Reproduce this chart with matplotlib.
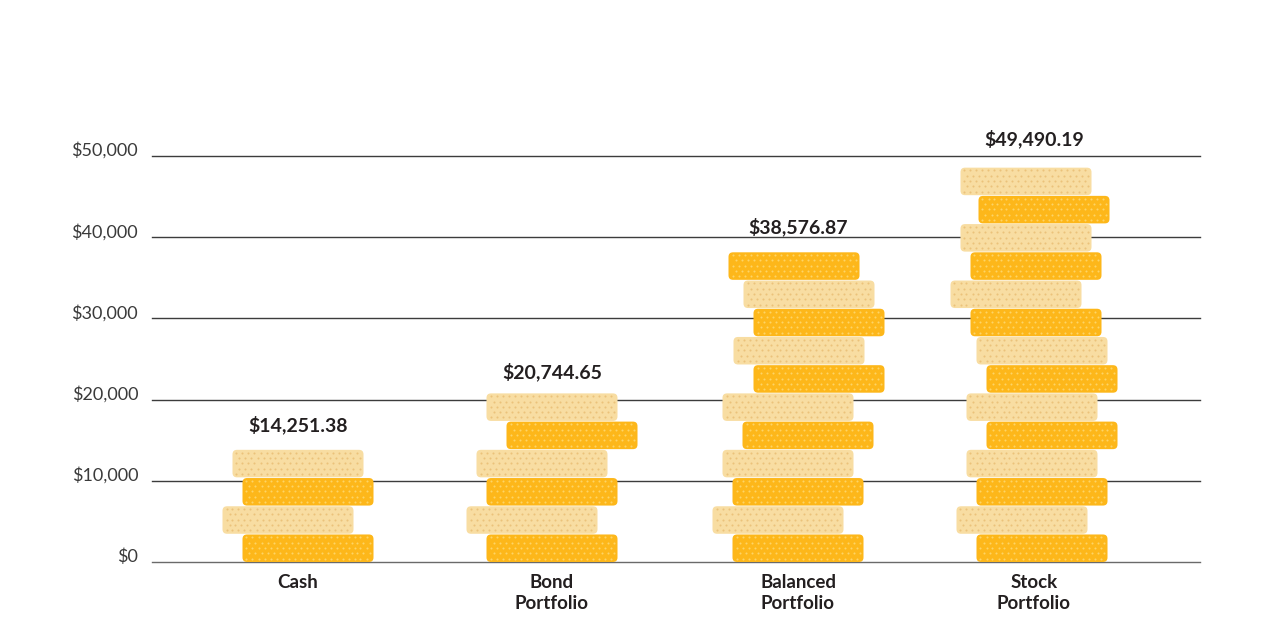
import matplotlib
matplotlib.use("Agg")
import matplotlib.pyplot as plt
from matplotlib.patches import FancyBboxPatch
import numpy as np

# ---------------- data ----------------
categories = ["Cash", "Bond\nPortfolio", "Balanced\nPortfolio", "Stock\nPortfolio"]
values = [14251.38, 20744.65, 38576.87, 49490.19]
coin_counts = [4, 6, 11, 14]
y_ticks = [0, 10000, 20000, 30000, 40000, 50000]
y_tick_labels = ["$0", "$10,000", "$20,000", "$30,000", "$40,000", "$50,000"]

# ---------------- layout / style ----------------
W, H = 1280, 640
AX_L, AX_R = 152, 1200          # px
Y0_PX, YTOP = 562, 55000        # baseline px, ylim top
PX_PER_UNIT_Y = 0.00812
X_UNIT_PX = 245.4               # px per category step
X0_PX = 302.4                   # px of category 0
GROUP_SHIFT_PX = [-4.4, 4.2, 4.8, -4.6]
# horizontal jitter of each coin (px, bottom to top)
COIN_SHIFT_PX = [
    [10, -10, 10, 0],
    [0, -20, 0, -10, 20, 0],
    [0, -20, 0, -10, 10, -10, 21, 1, 21, 11, -4],
    [8, -12, 8, -2, 18, -2, 18, 8, 2, -18, 2, -8, 10, -8],
]
COIN_W_PX = 131
COIN_STEP = 3475
COIN_H = 3390
DARK, LIGHT = "#FDB71A", "#F8DDA2"
DARK_DOT, LIGHT_DOT = "#FDD466", "#EBC27A"
TXT = "#231F20"

plt.rcParams["font.family"] = ["Lato", "DejaVu Sans"]

fig = plt.figure(figsize=(W / 100, H / 100), dpi=100)
top_px = Y0_PX - YTOP * PX_PER_UNIT_Y
ax = fig.add_axes([AX_L / W, 1 - Y0_PX / H, (AX_R - AX_L) / W, (Y0_PX - top_px) / H])
xl = ((AX_L - X0_PX) / X_UNIT_PX, (AX_R - X0_PX) / X_UNIT_PX)
ax.set_xlim(*xl)
ax.set_ylim(0, YTOP)

dx = 1.0 / X_UNIT_PX            # data units per px (x)
dy = 1.0 / PX_PER_UNIT_Y        # data units per px (y)

for s in ax.spines.values():
    s.set_visible(False)

for yv in y_ticks:
    ax.axhline(yv, color="#3C3C3C" if yv else "#6A6A6A", lw=1.0, zorder=1, clip_on=False)

ax.set_yticks(y_ticks)
ax.set_yticklabels(y_tick_labels, fontsize=13, fontweight="normal", color="#3A3A3A")
for lab in ax.get_yticklabels():
    lab.set_va("baseline")
ax.tick_params(axis="y", length=0, pad=10)

centers = [i + GROUP_SHIFT_PX[i] * dx for i in range(len(categories))]
ax.set_xticks(centers)
ax.set_xticklabels(categories, fontsize=13.5, fontweight="bold", color=TXT, linespacing=1.28)
ax.tick_params(axis="x", length=0, pad=9)

coin_w = COIN_W_PX * dx
aspect = dy / dx
for i, (n, c) in enumerate(zip(coin_counts, centers)):
    for k in range(n):
        xc = c + COIN_SHIFT_PX[i][k] * dx
        x0 = xc - coin_w / 2
        y0 = k * COIN_STEP
        dark = (k % 2 == 0)
        fc = DARK if dark else LIGHT
        dc = DARK_DOT if dark else LIGHT_DOT
        p = FancyBboxPatch((x0, y0), coin_w, COIN_H,
                           boxstyle=f"round,pad=0,rounding_size={4.5 * dx}",
                           mutation_aspect=aspect, facecolor=fc, edgecolor="none",
                           zorder=2)
        ax.add_patch(p)
        # dotted texture
        xs, ys = [], []
        rows = np.arange(3.5, COIN_H / dy - 2, 5.3)
        for r, ry in enumerate(rows):
            off = 0 if r % 2 == 0 else 3
            cols = np.arange(4 + off, COIN_W_PX - 3, 6)
            xs.extend(x0 + cols * dx)
            ys.extend([y0 + ry * dy] * len(cols))
        ax.scatter(xs, ys, s=2.2, color=dc, linewidths=0, zorder=3)

    ax.annotate(f"${values[i]:,.2f}", (c, values[i]), xytext=(0, 11),
                textcoords="offset points", ha="center", va="baseline",
                fontsize=14, fontweight="bold", color=TXT, zorder=4)

fig.savefig("out.png", dpi=100, facecolor="white")
